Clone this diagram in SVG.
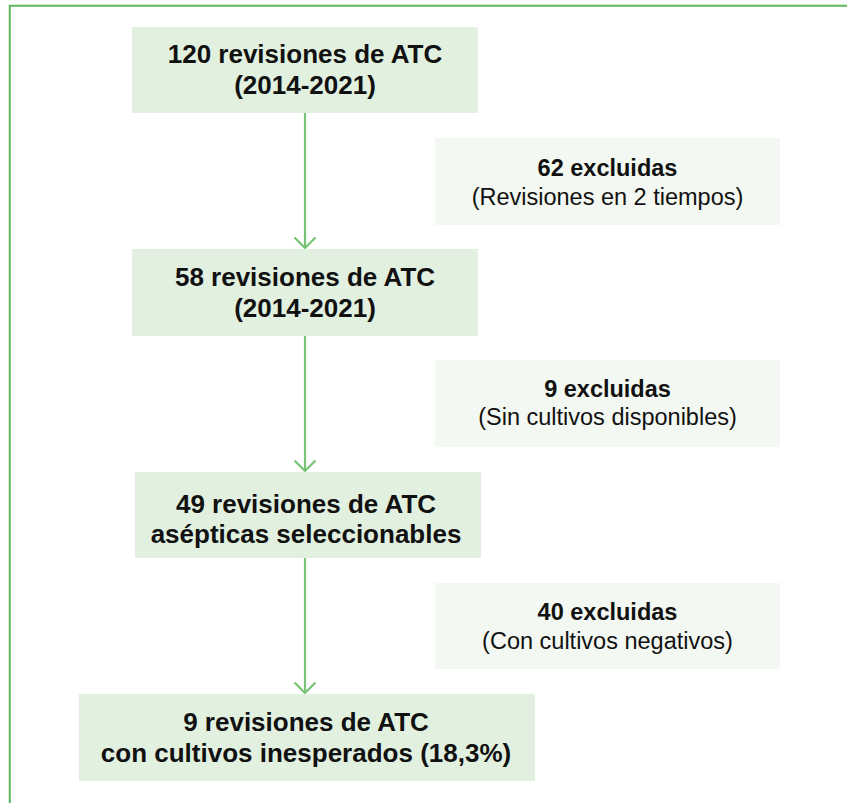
<svg xmlns="http://www.w3.org/2000/svg" width="847" height="803" viewBox="0 0 847 803">
<defs>
<style>
.main{fill:#e2f0e0}
.excl{fill:#f3f8f2}
.t{font-family:"Liberation Sans",Arial,sans-serif;text-anchor:middle;fill:#111}
.b26{font-size:26px;font-weight:bold}
.b23{font-size:23.5px;font-weight:bold}
.r23{font-size:23.5px}
.conn{stroke:#78c376;stroke-width:2.2;fill:none}
</style>
<marker id="arr" viewBox="0 0 13 24" refX="11.5" refY="12" markerWidth="13" markerHeight="24" markerUnits="userSpaceOnUse" orient="auto">
<path d="M1,1.5 L11.5,12 L1,22.5" fill="none" stroke="#78c376" stroke-width="2.2"/>
</marker>
</defs>
<rect x="0" y="0" width="847" height="803" fill="#ffffff"/>
<rect x="9.75" y="5.75" width="900" height="900" fill="none" stroke="#5cb65c" stroke-width="2"/>
<g id="connectors">
<line class="conn" x1="305" y1="113" x2="305" y2="248" marker-end="url(#arr)"/>
<line class="conn" x1="305" y1="336" x2="305" y2="471" marker-end="url(#arr)"/>
<line class="conn" x1="305" y1="558" x2="305" y2="693" marker-end="url(#arr)"/>
</g>
<g id="n1">
<rect class="main" x="132" y="27" width="346" height="86"/>
<text class="t b26" x="305" y="63">120 revisiones de ATC</text>
<text class="t b26" x="305" y="94">(2014-2021)</text>
</g>
<g id="e1">
<rect class="excl" x="435" y="138" width="345" height="87"/>
<text class="t b23" x="607.5" y="176">62 excluidas</text>
<text class="t r23" x="607.5" y="205">(Revisiones en 2 tiempos)</text>
</g>
<g id="n2">
<rect class="main" x="132" y="249" width="346" height="87"/>
<text class="t b26" x="305" y="286">58 revisiones de ATC</text>
<text class="t b26" x="305" y="317">(2014-2021)</text>
</g>
<g id="e2">
<rect class="excl" x="435" y="360" width="345" height="87"/>
<text class="t b23" x="607.5" y="397">9 excluidas</text>
<text class="t r23" x="607.5" y="425">(Sin cultivos disponibles)</text>
</g>
<g id="n3">
<rect class="main" x="135" y="472" width="346" height="86"/>
<text class="t b26" x="306" y="513">49 revisiones de ATC</text>
<text class="t b26" x="306" y="543">asépticas seleccionables</text>
</g>
<g id="e3">
<rect class="excl" x="435" y="583" width="345" height="86"/>
<text class="t b23" x="607.5" y="620">40 excluidas</text>
<text class="t r23" x="607.5" y="649">(Con cultivos negativos)</text>
</g>
<g id="n4">
<rect class="main" x="79" y="694" width="456" height="87"/>
<text class="t b26" x="306" y="731">9 revisiones de ATC</text>
<text class="t b26" x="306" y="762">con cultivos inesperados (18,3%)</text>
</g>
</svg>
